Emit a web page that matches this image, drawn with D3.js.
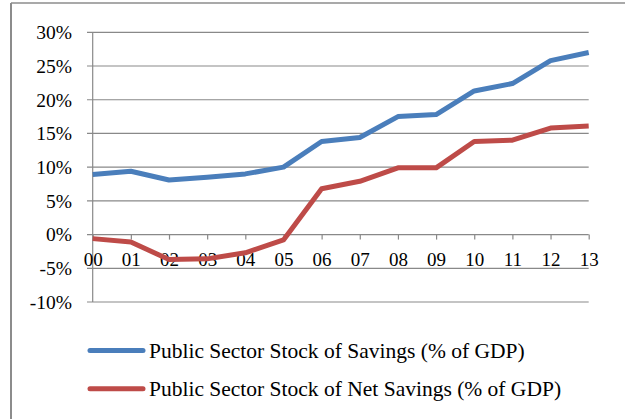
<!DOCTYPE html>
<html>
<head>
<meta charset="utf-8">
<script src="https://cdn.jsdelivr.net/npm/d3@7"></script>
<style>
  body { margin: 0; background: #fff; }
  svg { display: block; font-family: "Liberation Serif", "Times New Roman", serif; }
</style>
</head>
<body>
<svg id="drawing_region"></svg>
<script>
const years = ['00', '01', '02', '03', '04', '05', '06', '07', '08', '09', '10', '11', '12', '13'];
const savings = [8.9, 9.4, 8.1, 8.5, 9.0, 10.0, 13.8, 14.4, 17.5, 17.8, 21.3, 22.4, 25.8, 27.0];
const netSavings = [-0.6, -1.1, -3.7, -3.6, -2.7, -0.8, 6.8, 7.9, 9.9, 9.9, 13.8, 14.0, 15.8, 16.1];
const yTicks = [-10, -5, 0, 5, 10, 15, 20, 25, 30];
const seriesNames = ['Public Sector Stock of Savings (% of GDP)', 'Public Sector Stock of Net Savings (% of GDP)'];
const colors = ['#4a7ebb', '#be4b48'];

const width = 625, height = 419;
const svg = d3.select('#drawing_region')
    .attr('width', width)
    .attr('height', height);

// frame (only top and left edges are visible)
svg.append('line').attr('x1', 11).attr('x2', width).attr('y1', 3).attr('y2', 3)
    .attr('stroke', '#8c8c8c').attr('stroke-width', 1.5);
svg.append('line').attr('x1', 11).attr('x2', 11).attr('y1', 3).attr('y2', height)
    .attr('stroke', '#8c8c8c').attr('stroke-width', 2);

const x = d3.scalePoint().domain(years).range([92.7, 588.7]);
const y = d3.scaleLinear().domain([-10, 30]).range([302, 32.3]);

// gridlines
svg.append('g')
    .selectAll('line')
    .data(yTicks)
    .enter()
    .append('line')
    .attr('x1', 87)
    .attr('x2', 588.7)
    .attr('y1', d => y(d))
    .attr('y2', d => y(d))
    .attr('stroke', '#898989')
    .attr('stroke-width', 1.2);

// y axis line
svg.append('line')
    .attr('x1', x('00')).attr('x2', x('00'))
    .attr('y1', y(30)).attr('y2', y(-10))
    .attr('stroke', '#898989').attr('stroke-width', 1.2);

// y labels
svg.append('g')
    .selectAll('text')
    .data(yTicks)
    .enter()
    .append('text')
    .attr('x', 72)
    .attr('y', d => y(d))
    .attr('dy', '0.35em')
    .attr('text-anchor', 'end')
    .style('font-size', '19.5px')
    .attr('fill', '#000')
    .text(d => d + '%');

// x axis ticks at zero
const xAxis = svg.append('g')
    .attr('transform', `translate(0, ${y(0)})`)
    .call(d3.axisBottom(x).tickSize(5).tickSizeOuter(0));
xAxis.select('.domain').remove();
xAxis.selectAll('.tick line').attr('stroke', '#898989').attr('stroke-width', 1.2);
xAxis.selectAll('.tick text')
    .attr('y', 31)
    .attr('dy', 0)
    .attr('fill', '#000')
    .style('font-family', '"Liberation Serif", "Times New Roman", serif')
    .style('font-size', '19px');

// lines
const line = d3.line()
    .x((d, i) => x(years[i]))
    .y(d => y(d));

[savings, netSavings].forEach((data, k) => {
    svg.append('path')
        .datum(data)
        .attr('d', line)
        .attr('fill', 'none')
        .attr('stroke', colors[k])
        .attr('stroke-width', 5)
        .attr('stroke-linejoin', 'round');
});

// legend
const legend = svg.append('g')
    .selectAll('g')
    .data(seriesNames)
    .enter()
    .append('g')
    .attr('transform', (d, i) => `translate(0, ${350.5 + i * 38.3})`);

legend.append('line')
    .attr('x1', 90).attr('x2', 143)
    .attr('stroke', (d, i) => colors[i])
    .attr('stroke-width', 5)
    .attr('stroke-linecap', 'round');

legend.append('text')
    .attr('x', 149)
    .attr('dy', '0.34em')
    .style('font-size', '21.5px')
    .attr('fill', '#000')
    .text(d => d);
</script>
</body>
</html>
